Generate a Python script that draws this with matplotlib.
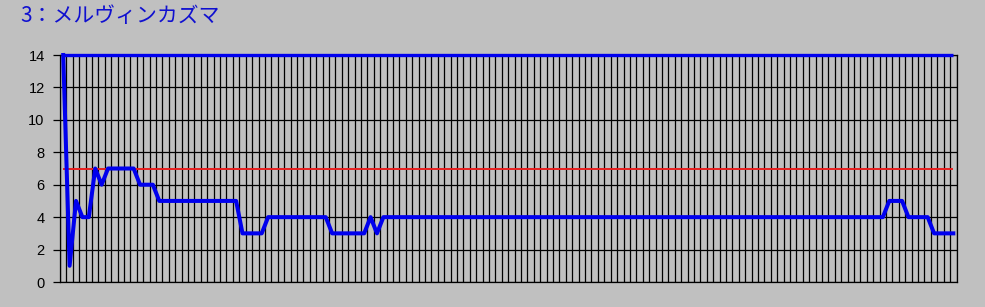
import matplotlib
matplotlib.use("Agg")
import matplotlib.pyplot as plt
import numpy as np

# Data
title = "3：メルヴィンカズマ"
rank = [
    14, 1, 5, 4, 4, 7, 6, 7, 7, 7,
    7, 7, 6, 6, 6, 5, 5, 5, 5, 5,
    5, 5, 5, 5, 5, 5, 5, 5, 3, 3,
    3, 3, 4, 4, 4, 4, 4, 4, 4, 4,
    4, 4, 3, 3, 3, 3, 3, 3, 4, 3,
    4, 4, 4, 4, 4, 4, 4, 4, 4, 4,
    4, 4, 4, 4, 4, 4, 4, 4, 4, 4,
    4, 4, 4, 4, 4, 4, 4, 4, 4, 4,
    4, 4, 4, 4, 4, 4, 4, 4, 4, 4,
    4, 4, 4, 4, 4, 4, 4, 4, 4, 4,
    4, 4, 4, 4, 4, 4, 4, 4, 4, 4,
    4, 4, 4, 4, 4, 4, 4, 4, 4, 4,
    4, 4, 4, 4, 4, 4, 4, 4, 4, 5,
    5, 5, 4, 4, 4, 4, 3, 3, 3, 3,
]
total_value = 14   # field size line
mid_value = 7      # red reference line
yticks = [0, 2, 4, 6, 8, 10, 12, 14]

n = len(rank)
x = np.arange(n) + 0.5
bg = "#C0C0C0"

plt.rcParams["font.family"] = ["Liberation Sans", "DejaVu Sans"]

fig = plt.figure(figsize=(9.85, 3.07), dpi=100, facecolor=bg)
ax = fig.add_axes([60 / 985, 1 - 282 / 307, 896.5 / 985, 227 / 307])
ax.set_facecolor(bg)

# grid
for k in range(n + 1):
    ax.axvline(k, color="black", lw=0.9, zorder=1)
for v in yticks:
    ax.axhline(v, color="black", lw=0.9, zorder=1)

ax.plot(x, [total_value] * n, color="#0000EE", lw=2.4, zorder=3,
        solid_capstyle="butt", clip_on=False)
ax.plot(x, [mid_value] * n, color="#E82020", lw=1.4, zorder=3, solid_capstyle="butt")
ax.plot(x, rank, color="#0000EE", lw=2.9, zorder=4, clip_on=False)

ax.set_xlim(0, n)
ax.set_ylim(0, 14)
ax.set_xticks([])
ax.set_yticks(yticks)
ax.set_yticklabels([str(v) for v in yticks], fontsize=10.5, color="black")
ax.tick_params(axis="y", length=5, width=0.9, pad=6)
for s in ax.spines.values():
    s.set_color("black")
    s.set_linewidth(0.9)

fig.text(20 / 985, 1 - 16 / 307, title, color="#1010D0", fontsize=15,
         va="center", ha="left", family=["Noto Sans CJK JP", "DejaVu Sans"])

fig.savefig("out.png", dpi=100, facecolor=bg)
